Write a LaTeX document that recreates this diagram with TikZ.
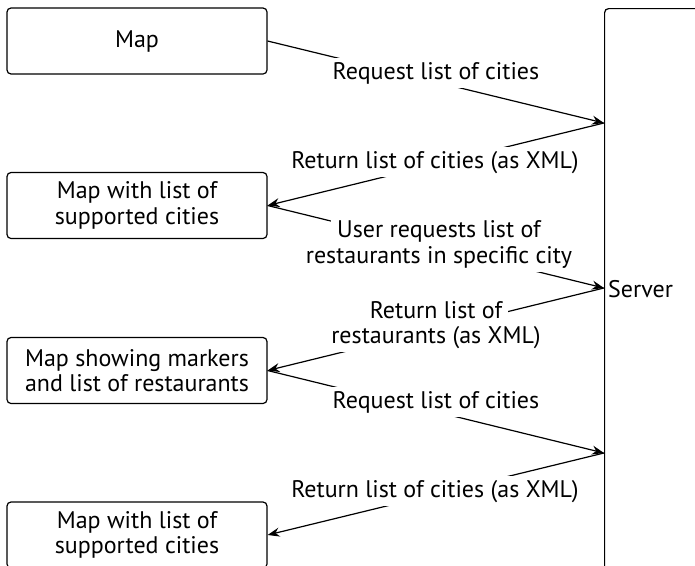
\documentclass[tikz,border=0pt]{standalone}
\usepackage{fontspec}
\setmainfont{PT Sans}
\usetikzlibrary{arrows.meta}
\begin{document}
\begin{tikzpicture}[x=1pt,y=-1pt,
  every node/.style={font=\fontsize{24}{25.5}\selectfont},
  box/.style={draw, line width=1.2pt, rounded corners=4pt, minimum width=260pt, minimum height=66pt, inner sep=0pt, align=center},
  conn/.style={line width=1.2pt},
  arr/.style={conn, -{Stealth[length=12pt,width=9pt,inset=4pt]}},
  lbl/.style={fill=white, inner xsep=6pt, inner ysep=2pt, text height=19pt, text depth=7pt, anchor=base}
]
\useasboundingbox (0,0) rectangle (695,565);
\clip (0,0) rectangle (695,565);
\node[box] (m1) at (137,41) {Map};
\node[box] (m2) at (137,205.5) {Map with list of\\supported cities};
\node[box] (m3) at (137,370.5) {Map showing markers\\and list of restaurants};
\node[box] (m4) at (137,535) {Map with list of\\supported cities};
\node[box, minimum width=140pt, minimum height=570pt, anchor=north west] (server) at (604,8) {};
\node[anchor=base west, inner sep=0pt] (srvlabel) at (608,297) {Server};
\coordinate (s1) at (604,123);
\coordinate (s2) at (604,288);
\coordinate (s3) at (604,453);
\draw[arr] (m1.east) -- (s1) node[lbl] (l1) at (436,79) {Request list of cities};
\draw[arr] (s1) -- (m2.east) node[lbl] (l2) at (435,168) {Return list of cities (as XML)};
\draw[arr] (m2.east) -- (s2) node[lbl] (l3a) at (439,237) {User requests list of} node[lbl] (l3b) at (439,263) {restaurants in specific city};
\draw[arr] (s2) -- (m3.east) node[lbl] (l4a) at (436,318) {Return list of} node[lbl] (l4b) at (436,343) {restaurants (as XML)};
\draw[arr] (m3.east) -- (s3) node[lbl] (l5) at (436,408) {Request list of cities};
\draw[arr] (s3) -- (m4.east) node[lbl] (l6) at (435,497) {Return list of cities (as XML)};
\end{tikzpicture}
\end{document}
